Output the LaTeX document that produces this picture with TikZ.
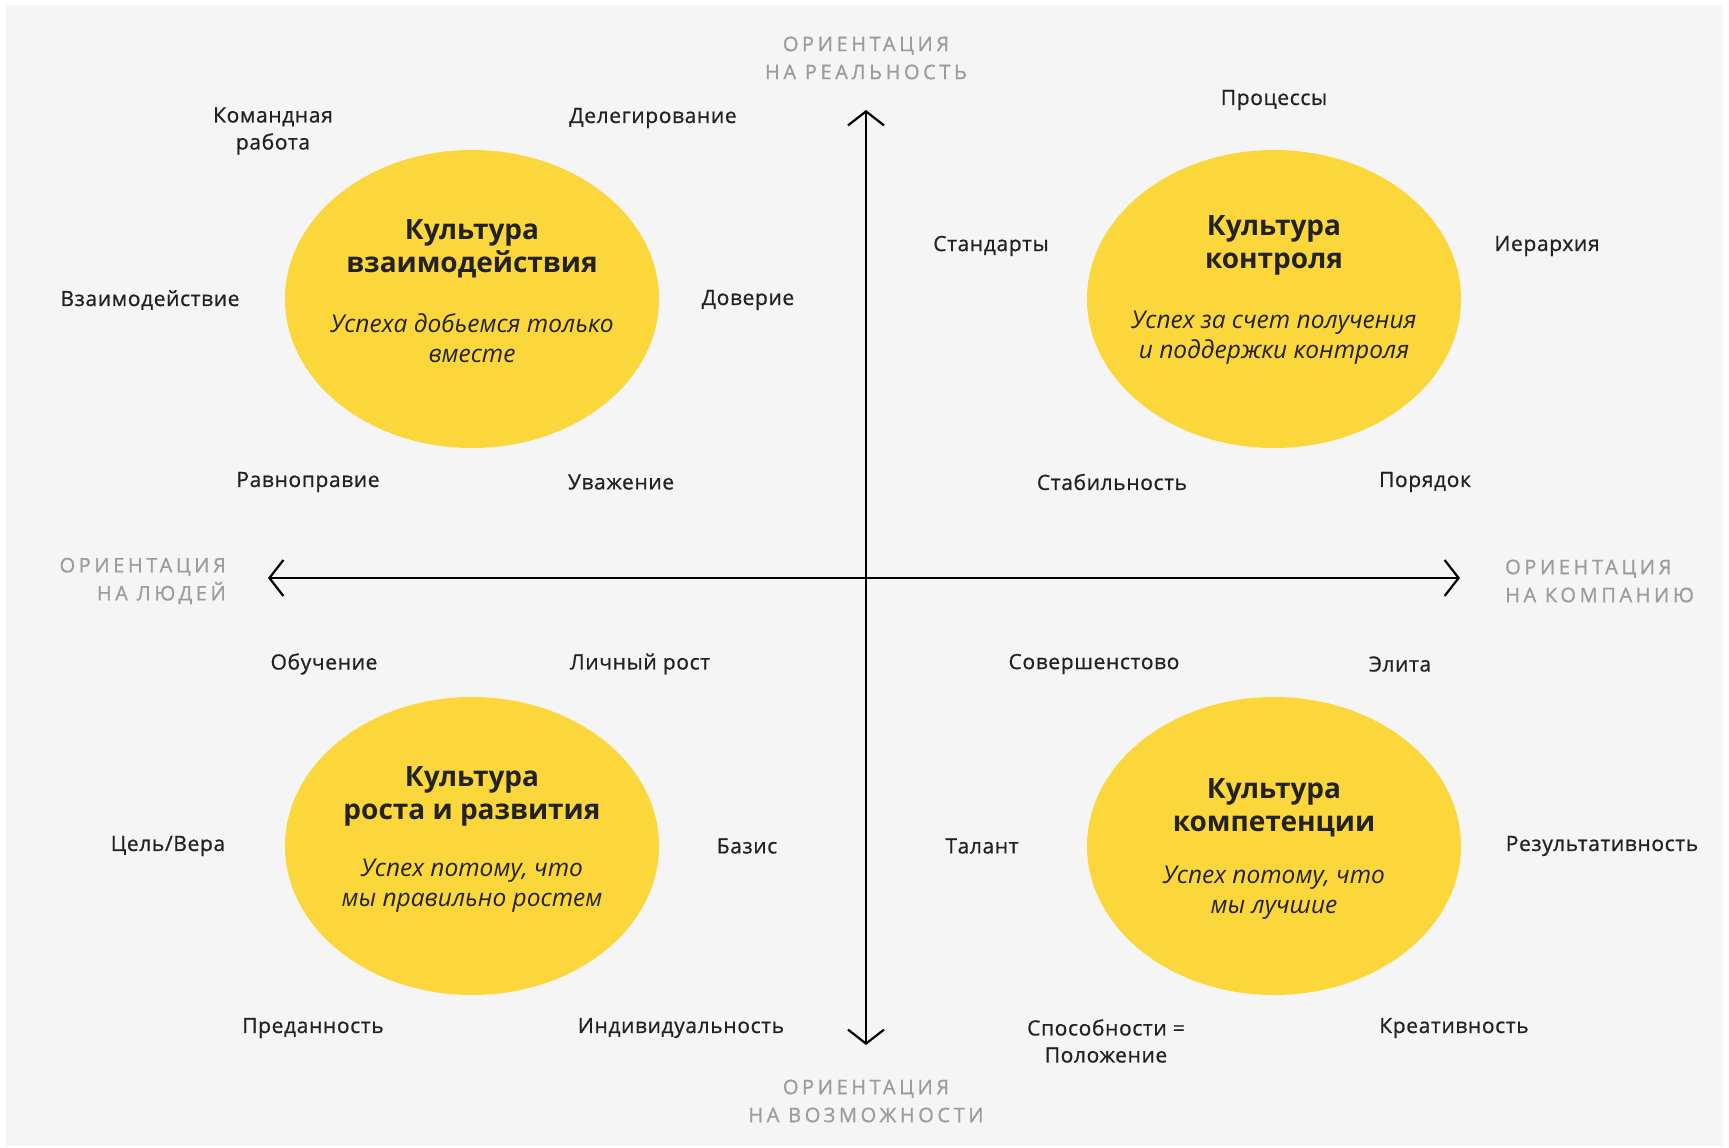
\documentclass[tikz,border=0pt]{standalone}
\usepackage{fontspec}
\setmainfont{Open Sans}
\newfontfamily\lblfont{Open Sans}[FakeBold=0.8, LetterSpace=3]
\newfontfamily\axfont{Open Sans}[FakeBold=1, LetterSpace=18]
\usetikzlibrary{arrows.meta,shapes.geometric}
\definecolor{bg}{HTML}{F5F5F5}
\definecolor{yel}{HTML}{FCD73B}
\definecolor{ink}{HTML}{222222}
\definecolor{axisgrey}{HTML}{9C9C9C}
\begin{document}
\begin{tikzpicture}[x=1pt,y=-1pt,
  lbl/.style={font=\lblfont\fontsize{21}{27}\selectfont, text=ink, align=center, inner sep=0pt},
  axlbl/.style={font=\axfont\fontsize{20}{28}\selectfont, text=axisgrey, inner sep=0pt},
  blob/.style={ellipse, fill=yel, minimum width=374pt, minimum height=298pt, inner sep=0pt},
  ttl/.style={font=\bfseries\fontsize{28}{33}\selectfont, text=ink, align=center, inner sep=0pt},
  sub/.style={font=\itshape\fontsize{24.5}{30}\selectfont, text=ink, align=center, inner sep=0pt},
  axis/.style={line width=2.2pt, draw=black, {Straight Barb[length=14pt,width=36pt,line width=2.2pt]}-{Straight Barb[length=14pt,width=36pt,line width=2.2pt]}}
]
\useasboundingbox (0,0) rectangle (1729,1148);
\fill[white] (0,0) rectangle (1729,1148);
\fill[bg] (6,5) rectangle (1723,1146);

% ellipses
\node[blob] (c1) at (472,299) {};
\node[blob] (c2) at (1274,299) {};
\node[blob] (c3) at (472,846) {};
\node[blob] (c4) at (1274,846) {};

% axes
\coordinate (top) at (866,110);
\coordinate (bot) at (866,1045);
\coordinate (lft) at (268,578);
\coordinate (rgt) at (1460,578);
\draw[axis] (top) -- (bot);
\draw[axis] (lft) -- (rgt);

% axis labels
\node[axlbl, align=center] (aTop) at (866,58) {ОРИЕНТАЦИЯ\\НА РЕАЛЬНОСТЬ};
\node[axlbl, align=center] (aBot) at (866,1101) {ОРИЕНТАЦИЯ\\НА ВОЗМОЖНОСТИ};
\node[axlbl, align=right, anchor=east] (aLft) at (226,581) {ОРИЕНТАЦИЯ\\НА ЛЮДЕЙ};
\node[axlbl, align=left, anchor=west] (aRgt) at (1505,581) {ОРИЕНТАЦИЯ\\НА КОМПАНИЮ};

% ellipse texts
\node[ttl] (t1) at (472,249) {Культура\\взаимодействия};
\node[sub] (s1) at (472,338) {Успеха добьемся только\\вместе};
\node[ttl] (t2) at (1274,245) {Культура\\контроля};
\node[sub] (s2) at (1274,338) {Успех за счет получения\\и поддержки контроля};
\node[ttl] (t3) at (472,796) {Культура\\роста и развития};
\node[sub] (s3) at (472,886) {Успех потому, что\\мы правильно ростем};
\node[ttl] (t4) at (1274,808) {Культура\\компетенции};
\node[sub] (s4) at (1274,893) {Успех потому, что\\мы лучшие};

% quadrant 1 labels
\node[lbl] (l1) at (273,131) {Командная\\работа};
\node[lbl] (l2) at (653,118) {Делегирование};
\node[lbl] (l3) at (150,300) {Взаимодействие};
\node[lbl] (l4) at (748,300) {Доверие};
\node[lbl] (l5) at (308,482) {Равноправие};
\node[lbl] (l6) at (621,482) {Уважение};
% quadrant 2 labels
\node[lbl] (l7) at (1274,100) {Процессы};
\node[lbl] (l8) at (991,246) {Стандарты};
\node[lbl] (l9) at (1547,246) {Иерархия};
\node[lbl] (l10) at (1112,482) {Стабильность};
\node[lbl] (l11) at (1425,482) {Порядок};
% quadrant 3 labels
\node[lbl] (l12) at (324,664) {Обучение};
\node[lbl] (l13) at (640,664) {Личный рост};
\node[lbl] (l14) at (168,846) {Цель/Вера};
\node[lbl] (l15) at (747,846) {Базис};
\node[lbl] (l16) at (313,1028) {Преданность};
\node[lbl] (l17) at (681,1028) {Индивидуальность};
% quadrant 4 labels
\node[lbl] (l18) at (1094,664) {Совершенстово};
\node[lbl] (l19) at (1400,664) {Элита};
\node[lbl] (l20) at (982,846) {Талант};
\node[lbl] (l21) at (1602,846) {Результативность};
\node[lbl] (l22) at (1106,1041) {Способности =\\Положение};
\node[lbl] (l23) at (1454,1028) {Креативность};
\end{tikzpicture}
\end{document}
